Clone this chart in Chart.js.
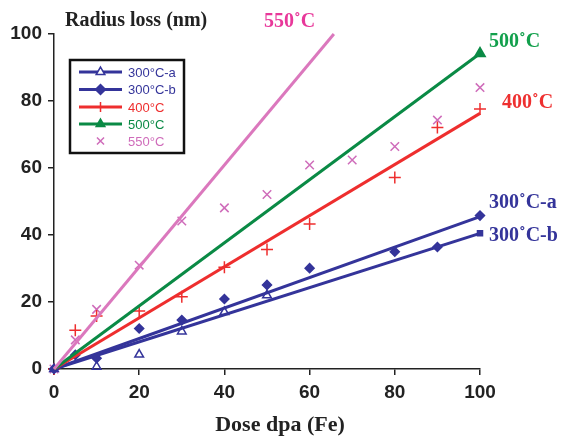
<!DOCTYPE html>
<html>
<head>
<meta charset="utf-8">
<script src="https://cdn.jsdelivr.net/npm/chart.js@4"></script>
<style>
html,body{margin:0;padding:0;background:#fff;}
#wrap{width:568px;height:440px;position:relative;}
</style>
</head>
<body>
<div id="wrap"><canvas id="c" width="568" height="440"></canvas></div>
<script>
// ---- data ----
const x300a = [0, 10, 20, 30, 40, 50];
const y300a = [0, 0.7, 4.3, 11.2, 17, 22];
const x300b = [0, 5, 10, 20, 30, 40, 50, 60, 80, 90, 100];
const y300b = [0, 4.2, 3.2, 12.1, 14.6, 20.9, 25.1, 30.1, 35, 36.4, 45.8];
const x400 = [0, 5, 10, 20, 30, 40, 50, 60, 80, 90, 100];
const y400 = [0, 11.6, 15.8, 17.3, 21.6, 30.4, 35.7, 43.3, 57.2, 72.1, 77.6];
const x550 = [0, 5, 10, 20, 30, 40, 50, 60, 70, 80, 90, 100];
const y550 = [0, 8.7, 17.8, 31, 44.2, 48.1, 52.1, 60.9, 62.4, 66.4, 74.3, 84];
// fitted lines (start / end points)
const fit300aX = [0, 100], fit300aY = [0, 45.5];
const fit300bX = [0, 100], fit300bY = [0, 40.5];
const fit400X = [0, 100], fit400Y = [0, 76.3];
const fit500X = [0, 100], fit500Y = [0, 94.2];
const fit550X = [0, 65.7], fit550Y = [0, 100];
const xTicks = [0, 20, 40, 60, 80, 100];
const yTicks = [0, 20, 40, 60, 80, 100];
const seriesNames = ['300°C-a', '300°C-b', '400°C', '500°C', '550°C'];
const endLabels = ['550˚C', '500˚C', '400˚C', '300˚C-a', '300˚C-b'];

const BLUE = '#34349a', RED = '#ee2e2e', GREEN = '#0a8a45', PINK = '#db78bd', PINKM = '#cf6cba';
const pts = (xs, ys) => xs.map((x, i) => ({x: x, y: ys[i]}));

const SANS = '"Liberation Sans", Arial, sans-serif';
const SERIF = '"Liberation Serif", "Times New Roman", serif';

const overlay = {
  id: 'overlay',
  afterDraw(chart) {
    const ctx = chart.ctx;
    ctx.save();
    // titles
    ctx.fillStyle = '#222';
    ctx.font = 'bold 20px ' + SERIF;
    ctx.textBaseline = 'middle';
    ctx.textAlign = 'left';
    ctx.fillText('Radius loss (nm)', 65, 21);
    ctx.textAlign = 'center';
    ctx.font = 'bold 22px ' + SERIF;
    ctx.fillText('Dose dpa (Fe)', 280, 425);
    // end labels
    const lab = [
      [endLabels[0], 264, 22, '#e8389a'],
      [endLabels[1], 489, 42, '#12a04c'],
      [endLabels[2], 502, 103, '#ee3030'],
      [endLabels[3], 489, 203, BLUE],
      [endLabels[4], 489, 236, BLUE]
    ];
    ctx.textAlign = 'left';
    ctx.font = 'bold 20px ' + SERIF;
    lab.forEach(l => { ctx.fillStyle = l[3]; ctx.fillText(l[0], l[1], l[2]); });
    // legend
    const bx = 70, by = 60, bw = 114, bh = 93;
    ctx.fillStyle = '#fff';
    ctx.fillRect(bx, by, bw, bh);
    ctx.strokeStyle = '#111';
    ctx.lineWidth = 2.5;
    ctx.strokeRect(bx, by, bw, bh);
    const rows = [72, 89.5, 107, 124, 141];
    const cols = [BLUE, BLUE, RED, GREEN, PINKM];
    const styles = ['triangle', 'rectRot', 'cross', 'triangle', 'crossRot'];
    const fills = [false, true, false, true, false];
    const lines = [true, true, true, true, false];
    rows.forEach((yy, i) => {
      if (lines[i]) {
        ctx.strokeStyle = cols[i];
        ctx.lineWidth = 3;
        ctx.beginPath(); ctx.moveTo(79, yy); ctx.lineTo(122, yy); ctx.stroke();
      }
      ctx.fillStyle = fills[i] ? cols[i] : '#fff';
      ctx.strokeStyle = cols[i];
      ctx.lineWidth = 1.5;
      Chart.helpers.drawPoint(ctx, {pointStyle: styles[i], radius: 5, rotation: 0, borderWidth: 1.5}, 100.5, yy);
      ctx.fillStyle = cols[i];
      ctx.font = '13px ' + SANS;
      ctx.textAlign = 'left';
      ctx.textBaseline = 'middle';
      ctx.fillText(seriesNames[i], 128, yy + 1);
    });
    ctx.restore();
  }
};

const lineDs = (xs, ys, color, extra) => Object.assign({
  type: 'line', data: pts(xs, ys), borderColor: color, backgroundColor: color,
  borderWidth: 3, pointRadius: 0, showLine: true, clip: false, tension: 0
}, extra || {});
const scatDs = (xs, ys, color, style, fill, r) => ({
  type: 'scatter', data: pts(xs, ys), borderColor: color,
  backgroundColor: fill ? color : 'rgba(0,0,0,0)', pointStyle: style,
  pointRadius: r, pointBorderWidth: 1.5, showLine: false, clip: false
});

new Chart(document.getElementById('c'), {
  type: 'scatter',
  data: {
    datasets: [
      lineDs(fit550X, fit550Y, PINK),
      lineDs(fit500X, fit500Y, GREEN, {pointRadius: [0, 4.5], pointStyle: 'triangle'}),
      lineDs(fit400X, fit400Y, RED),
      lineDs(fit300aX, fit300aY, BLUE),
      lineDs(fit300bX, fit300bY, BLUE, {pointRadius: [0, 2.5], pointStyle: 'rect'}),
      scatDs(x300a, y300a, BLUE, 'triangle', false, 5),
      scatDs(x300b, y300b, BLUE, 'rectRot', true, 4.5),
      scatDs(x400, y400, RED, 'cross', false, 6),
      scatDs(x550, y550, PINKM, 'crossRot', false, 6)
    ]
  },
  options: {
    responsive: false,
    animation: false,
    events: [],
    layout: {padding: {left: 0, top: 34, right: 88, bottom: 0}},
    plugins: {legend: {display: false}, tooltip: {enabled: false}},
    scales: {
      x: {
        type: 'linear', min: 0, max: 100,
        afterFit: s => { s.height = 71; },
        afterBuildTicks: s => { s.ticks = xTicks.map(v => ({value: v})); },
        border: {color: '#222', width: 1.5},
        grid: {drawOnChartArea: false, drawTicks: true, tickLength: 6, color: '#222', lineWidth: 1.5},
        ticks: {color: '#222', font: {family: SANS, size: 19, weight: 'bold'}, padding: 6, maxRotation: 0}
      },
      y: {
        type: 'linear', min: 0, max: 100,
        afterFit: s => { s.width = 54; },
        afterBuildTicks: s => { s.ticks = yTicks.map(v => ({value: v})); },
        border: {color: '#222', width: 1.5},
        grid: {drawOnChartArea: false, drawTicks: true, tickLength: 6, color: '#222', lineWidth: 1.5},
        ticks: {color: '#222', font: {family: SANS, size: 19, weight: 'bold'}, padding: 6}
      }
    }
  },
  plugins: [overlay]
});
</script>
</body>
</html>
